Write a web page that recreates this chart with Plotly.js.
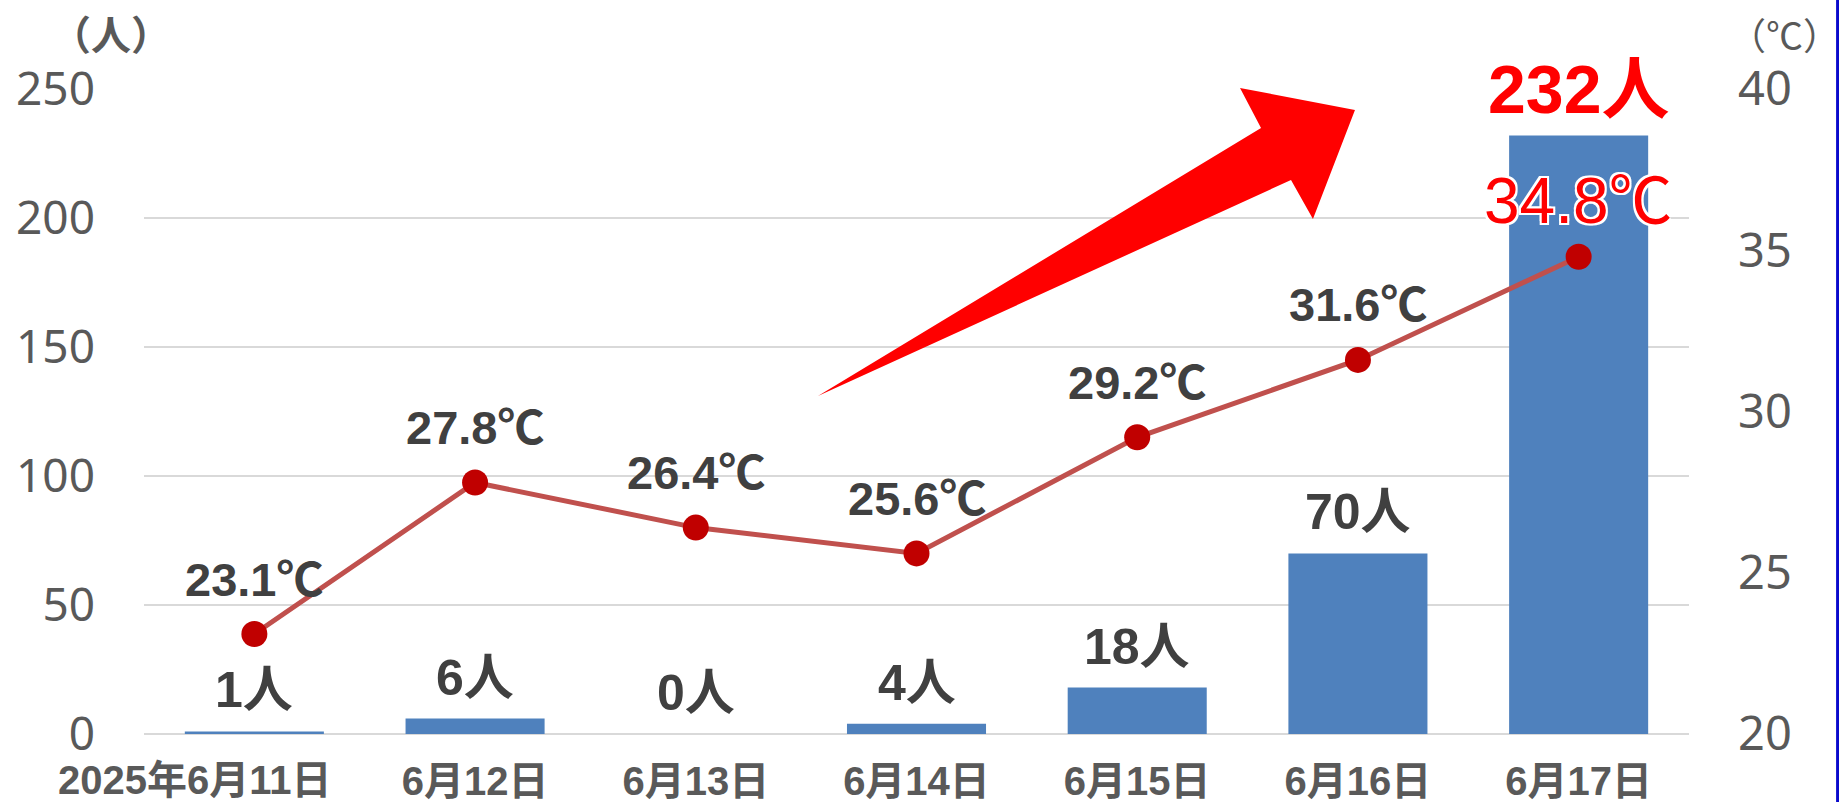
<!DOCTYPE html>
<html>
<head>
<meta charset="utf-8">
<script src="https://cdn.plot.ly/plotly-3.0.1.min.js"></script>
<style>
html,body{margin:0;padding:0;background:#fff;}
#chart{width:1839px;height:802px;}
</style>
</head>
<body>
<div id="chart"></div>
<script>
// ---- data ----
const categories = ["2025年6月11日", "6月12日", "6月13日", "6月14日", "6月15日", "6月16日", "6月17日"];
const patients = [1, 6, 0, 4, 18, 70, 232];
const temperatures = [23.1, 27.8, 26.4, 25.6, 29.2, 31.6, 34.8];
const patientLabels = ["1人", "6人", "0人", "4人", "18人", "70人", "232人"];
const tempLabels = ["23.1℃", "27.8℃", "26.4℃", "25.6℃", "29.2℃", "31.6℃", "34.8℃"];
const leftTicks = [0, 50, 100, 150, 200, 250];
const rightTicks = [20, 25, 30, 35, 40];
const highlightIndex = 6;

const narrow = "'Liberation Sans Narrow', 'Liberation Sans', 'Noto Sans CJK JP', sans-serif";
const cjk = "'Noto Sans CJK JP', sans-serif";
const xTickFont = {family: narrow, size: 40, color: "#595959", weight: "bold"};

const traces = [
  {
    type: "bar",
    x: categories,
    y: patients,
    marker: {color: "#4F81BD"},
    hoverinfo: "skip",
    yaxis: "y"
  },
  {
    type: "scatter",
    mode: "lines+markers",
    x: categories,
    y: temperatures,
    yaxis: "y2",
    line: {color: "#C0504D", width: 5},
    marker: {color: "#C00000", size: 26},
    hoverinfo: "skip"
  }
];

const annotations = [];
categories.forEach((c, i) => {
  const hi = i === highlightIndex;
  annotations.push({
    x: c, y: patients[i], xref: "x", yref: "y",
    text: "<b>" + patientLabels[i] + "</b>",
    showarrow: false, yanchor: "middle", yshift: hi ? 46 : 41,
    font: {family: narrow, size: hi ? 68 : 50, color: hi ? "#FF0000" : "#404040"}
  });
  annotations.push({
    x: c, y: temperatures[i], xref: "x", yref: "y2",
    text: hi ? tempLabels[i] : "<b>" + tempLabels[i] + "</b>",
    showarrow: false, yanchor: "middle", yshift: hi ? 56 : 55,
    font: hi ? {family: narrow, size: 64, color: "#FF0000",
                shadow: "-2px -2px 0 #fff, 2px -2px 0 #fff, -2px 2px 0 #fff, 2px 2px 0 #fff"}
             : {family: narrow, size: 47, color: "#404040"}
  });
});
// first category label is shifted left in the original (too wide to centre)
annotations.push({
  x: categories[0], xref: "x", yref: "paper", y: -0.0713,
  text: categories[0], showarrow: false, xanchor: "center", yanchor: "middle",
  xshift: -59, font: xTickFont
});
annotations.push({
  xref: "paper", yref: "paper", x: -0.0214, y: 1.0868,
  text: "<b>（人）</b>", showarrow: false, xanchor: "center", yanchor: "middle",
  font: {family: cjk, size: 40, color: "#595959"}
});
annotations.push({
  xref: "paper", yref: "paper", x: 1.062, y: 1.085,
  text: "（℃）", showarrow: false, xanchor: "center", yanchor: "middle",
  font: {family: cjk, size: 37, color: "#595959"}
});

const arrowPath = "M 0.4362 0.5240 L 0.7230 0.9395 L 0.7094 1.0016 L 0.7838 0.9674 L 0.7566 0.7984 L 0.7424 0.8589 Z";

const layout = {
  width: 1839, height: 802,
  margin: {l: 144, r: 150, t: 89, b: 68},
  paper_bgcolor: "#FFFFFF",
  plot_bgcolor: "#FFFFFF",
  showlegend: false,
  bargap: 0.37,
  xaxis: {
    type: "category",
    range: [-0.5, categories.length - 0.5],
    tickvals: categories,
    ticktext: categories.map((c, i) => i === 0 ? "" : c),
    tickfont: xTickFont,
    showgrid: false, zeroline: false, showline: false,
    ticks: "", ticklabelstandoff: 20
  },
  yaxis: {
    range: [0, 250], tickvals: leftTicks, ticktext: leftTicks.map(String),
    showgrid: true, gridcolor: "#D9D9D9", gridwidth: 2,
    zeroline: true, zerolinecolor: "#D9D9D9", zerolinewidth: 2,
    tickfont: {family: "'Noto Sans', sans-serif", size: 46, color: "#595959"},
    ticks: "", ticklabelstandoff: 48, fixedrange: true
  },
  yaxis2: {
    range: [20, 40], tickvals: rightTicks, ticktext: rightTicks.map(String),
    overlaying: "y", side: "right", showgrid: false, zeroline: false,
    tickfont: {family: "'Noto Sans', sans-serif", size: 47, color: "#595959"},
    ticks: "", ticklabelstandoff: 48
  },
  annotations: annotations,
  shapes: [
    {type: "path", xref: "paper", yref: "paper", path: arrowPath,
     fillcolor: "#FF0000", line: {width: 0}, layer: "above"},
    {type: "rect", xref: "paper", yref: "paper", x0: 1.0952, x1: 1.0975, y0: -0.11, y1: 1.14,
     fillcolor: "#0A0ACC", line: {width: 0}}
  ]
};

Plotly.newPlot("chart", traces, layout, {displayModeBar: false, staticPlot: true});
</script>
</body>
</html>
